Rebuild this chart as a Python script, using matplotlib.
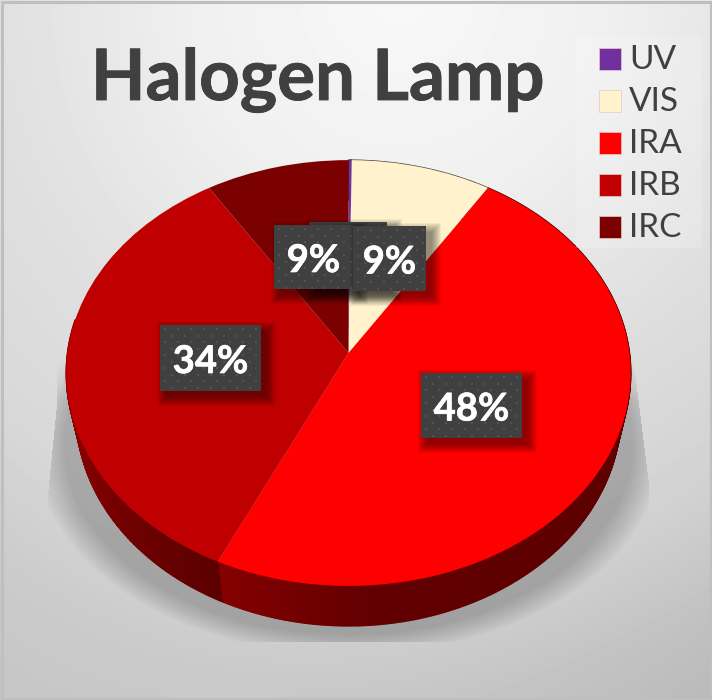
import numpy as np
import matplotlib
matplotlib.use('Agg')
import matplotlib.pyplot as plt
import matplotlib.patheffects as pe
from matplotlib.collections import PolyCollection
from matplotlib.patches import Rectangle
from matplotlib.transforms import Transform

# Data
labels = ['UV', 'VIS', 'IRA', 'IRB', 'IRC']
sizes = [0.2, 8.8, 48.0, 34.0, 9.0]
colors = ['#7030a0', '#fff2cc', '#ff0000', '#c00000', '#7b0000']
title = 'Halogen Lamp'

W, H = 712, 700
CX, CY, RX, RY, TILT = 348.5, 353, 281, 211, 0.094
DEPTH = 40
plt.rcParams['font.family'] = ['Lato', 'DejaVu Sans']
DARK = '#404040'


class Perspective(Transform):
    # tilted disc: unit circle -> pixel coordinates
    input_dims = 2
    output_dims = 2

    def transform_non_affine(self, xy):
        xy = np.asarray(xy, dtype=float)
        w = 1 + TILT * xy[:, 1]
        return np.column_stack([CX + RX * xy[:, 0] / w, CY - RY * xy[:, 1] / w])


fig = plt.figure(figsize=(W / 100, H / 100), dpi=100)
ax = fig.add_axes([0, 0, 1, 1])

# Background gradient
yy, xx = np.mgrid[0:H, 0:W]
dist = np.hypot(xx - 400, yy * 0.98)
bg = np.interp(dist, [0, 200, 400, 560, 680, 800, 950], [248, 240, 224, 216, 203, 197, 182])
bg -= 14 * (xx / W * yy / H) ** 2
ax.imshow(bg, cmap='gray', vmin=0, vmax=255, extent=(0, W, H, 0), aspect='auto', zorder=0)

# Soft shadow under the pie
r = np.hypot((xx - 348) / 315, (yy - 445) / 210)
alpha = 0.22 * np.clip((1.0 - r) / 0.10, 0, 1) ** 0.9
alpha *= np.clip((yy - 340) / 60, 0, 1)
left = np.interp(yy, [400, 490], [57, 48])
right = np.interp(yy, [360, 480], [633, 648])
alpha[(xx < left) | (xx > right) | (yy > 641)] = 0
shadow = np.zeros((H, W, 4))
shadow[..., 3] = alpha
ax.imshow(shadow, extent=(0, W, H, 0), aspect='auto', zorder=1)

# Top of the pie
wedges, _ = ax.pie(sizes, colors=colors, startangle=90, counterclock=False,
                   wedgeprops={'linewidth': 0})
for w in wedges:
    w.set_transform(Perspective() + ax.transData)
    w.set_zorder(4)
ax.set_aspect('auto')

# Side wall of the pie, lower rim slightly narrower than the top one
cum = np.concatenate([[0], np.cumsum(sizes)]) / sum(sizes) * 2 * np.pi
proj = Perspective()
base_rgb = [matplotlib.colors.to_rgb(c) for c in colors]
quads, quad_cols = [], []
for i in range(len(sizes)):
    ts = np.arange(cum[i], cum[i + 1], np.radians(0.5))
    ts = np.append(ts, cum[i + 1])
    for a, b in zip(ts[:-1], ts[1:]):
        if a > np.pi * 1.55:
            continue
        pts = proj.transform_non_affine(np.array([[np.sin(a), np.cos(a)], [np.sin(b), np.cos(b)]]))
        low = pts.copy()
        low[:, 0] = CX + (low[:, 0] - CX) * 0.965
        low[:, 1] += DEPTH
        quads.append([pts[0], pts[1], low[1], low[0]])
        deg = np.degrees(a)
        if labels[i] == 'IRB':
            shade = np.interp(deg, [206, 235, 275], [0.48, 0.62, 0.82])
        else:
            shade = np.interp(deg, [100, 175, 206], [0.36, 0.38, 0.53])
        quad_cols.append(tuple(c * shade for c in base_rgb[i]))
ax.add_collection(PolyCollection(quads, facecolors=quad_cols, edgecolors=quad_cols,
                                 linewidths=1.0, zorder=3))


def label_box(x0, y0, x1, y1, z):
    # blurred drop shadow
    for m in range(10):
        ax.add_patch(Rectangle((x0 + 6 - m, y0 + 6 - m), x1 - x0 + 2 * m, y1 - y0 + 2 * m,
                               fc='black', ec='none', alpha=0.05, zorder=z))
    ax.add_patch(Rectangle((x0, y0), x1 - x0, y1 - y0, fc=DARK, ec='none', zorder=z + 0.1))
    gx, gy = np.meshgrid(np.arange(x0 + 5, x1 - 1, 6.5), np.arange(y0 + 4, y1 - 1, 6.5))
    mask = (np.round((gx - x0 - 5) / 6.5) + np.round((gy - y0 - 4) / 6.5)) % 2 == 0
    ax.scatter(gx[mask], gy[mask], s=4, marker='s', color='#525252', linewidths=0, zorder=z + 0.2)


# Data labels, back to front
label_box(309, 222, 387, 287, 5)
boxes = {'IRC': (274, 225, 353, 289), 'VIS': (353, 226, 426, 291),
         'IRB': (160, 325, 261, 391), 'IRA': (421, 373, 522, 438)}
for k, name in enumerate(['IRC', 'VIS', 'IRB', 'IRA']):
    x0, y0, x1, y1 = boxes[name]
    z = 6 + k
    label_box(x0, y0, x1, y1, z)
    ax.text((x0 + x1) / 2, (y0 + y1) / 2 + 4, f'{sizes[labels.index(name)]:.0f}%', color='white',
            fontsize=27.5, fontweight='bold', ha='center', va='center', zorder=z + 0.5,
            path_effects=[pe.withStroke(linewidth=0.5, foreground='white')])

# Title
ax.text(91, 100, title, color=DARK, fontsize=51, fontweight='bold', ha='left', va='baseline', zorder=12,
        path_effects=[pe.withStroke(linewidth=0.6, foreground=DARK)])

# Legend
ax.add_patch(Rectangle((576, 37), 126, 211, fc='white', ec='none', alpha=0.18, zorder=11))
for i, name in enumerate(labels):
    y = 59 + 42 * i
    ax.add_patch(Rectangle((599, y - 11), 22, 22, fc=colors[i], ec='#e8c8c8', lw=0.5, zorder=12))
    ax.text(629, y + 1, name, color=DARK, fontsize=24, ha='left', va='center', zorder=12)

# Outer border
ax.add_patch(Rectangle((1.5, 1.5), W - 3, H - 3, fc='none', ec='#bfbfbf', lw=2.2, zorder=13))

ax.set_xlim(0, W)
ax.set_ylim(H, 0)
ax.axis('off')
fig.savefig('out.png', dpi=100)
